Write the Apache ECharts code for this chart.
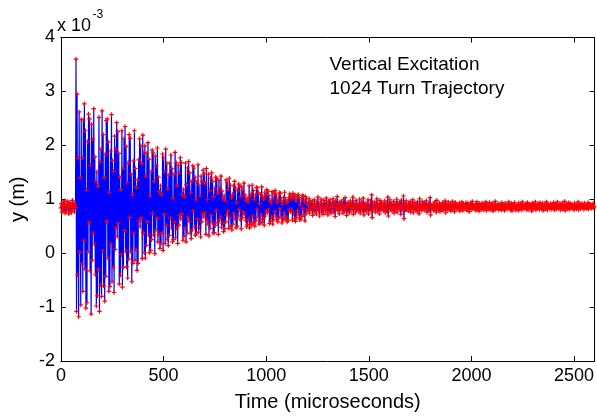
<!DOCTYPE html>
<html>
<head>
<meta charset="utf-8">
<script src="https://cdn.jsdelivr.net/npm/echarts@6/dist/echarts.min.js"></script>
<style>html,body{margin:0;padding:0;background:#fff}#c{width:597px;height:417px}</style>
</head>
<body>
<div id="c"></div>
<script>
// ---- data (y in units of 1e-5 m, i.e. hundredths of the 1e-3 m axis unit) ----
const turnPeriodUs = 2.54; // one sample per turn
const xTickValues = [0, 500, 1000, 1500, 2000, 2500];
const yTickValues = [-2, -1, 0, 1, 2, 3, 4];

// turns before the kick
const preKickY = [84,92,76,88,95,80,86,97,74,89, 91,78,83,96,87,73,85,94,79,90, 75,88,98,81,86,93,77,90,85];

// decaying oscillation after the kick
const decayY = [
360,-108,295,-40,176,-118,262,2,140,-96,248,-20,
177,-71,247,24,277,-29,227,-102,117,-92,207,3,
258,57,249,-33,163,-113,239,-13,211,37,268,17,
179,-40,133,-98,151,-79,124,-30,252,-108,169,-59,
193,-80,264,4,220,-61,140,-89,184,-43,246,59,
249,-9,206,-71,113,-62,189,17,257,-53,172,-27,
152,-73,217,7,193,47,242,31,226,55,185,-57,
142,-41,118,-3,227,-63,157,-26,212,42,235,4,
198,-25,131,-46,168,-11,220,66,213,3,146,-53,
108,-19,171,37,227,-13,157,6,122,-32,136,-19,
173,60,212,49,199,65,166,-10,219,38,186,1,
199,-9,143,15,186,58,205,34,174,1,106,5,
151,25,191,74,186,34,133,-1,180,43,162,65,
195,21,141,34,114,9,125,17,109,38,184,5,
177,72,151,18,193,52,167,25,119,14,145,33,
167,65,182,47,157,21,102,25,147,58,187,29,
168,46,125,18,163,52,149,70,177,63,168,73,
109,24,118,31,105,47,167,21,127,37,158,67,
170,59,149,37,112,27,133,43,162,78,158,49,
141,33,99,36,133,63,164,39,126,48,106,30,
143,58,133,72,154,67,147,75,129,35,157,61,
100,54,146,32,116,46,139,70,149,57,133,37,
105,38,120,51,141,79,138,56,111,35,135,61,
121,67,143,48,115,55,101,40,107,45,98,58,
136,71,131,78,118,46,139,66,126,50,103,43,
109,54,125,74,133,63,121,47,94,50,116,69,
128,81,125,62,105,45,123,66,116,76,130,72,
108,61,98,49,102,53,95,63,125,47,106,57,
110,52,126,69,116,56,99,50,108,60,122,81,
121,67,112,54,92,56,109,72,123,57,105,63,
100,52,113,69,108,78,118,75,115,80,107,55,
98,59,93,67,114,54,101,62,111,77,116,69,
108,62,95,58,102,65,112,82,111,68,98,56,
91,61,103,75,113,63,100,67,94,58,96,61,
103,80,110,77,107,81,101,61,111,74,105,64,
108,59,97,66,105,79,109,72,103,62,90,63,
99,68,107,83,106,71,96,60,105,73,101,80
];

// residual noise after decoherence
const tailY = [
92,78,88,101,74,86,95,80,83,97,70,89,84,99,77,90,
86,73,96,82,104,79,88,69,93,85,100,76,91,83,72,98,
81,94,87,75,102,83,90,71,96,84,78,99,86,74,92,80,
89,101,76,85,93,68,97,82,88,105,79,84,91,73,95,87,
80,96,83,90,74,99,86,78,103,82,89,70,94,85,77,92,
88,75,97,84,91,80,86,104,72,93,83,88,76,98,81,90,
84,92,79,87,100,74,89,83,95,78,86,102,71,91,85,80,
93,77,88,84,99,73,90,86,81,97,79,108,66,94,83,87,
82,95,76,89,85,101,78,92,84,87,73,98,88,80,94,83,
86,79,91,84,97,75,88,82,93,77,104,69,90,85,99,81,
87,92,78,86,83,96,74,89,91,80,85,100,76,93,84,88,
81,95,87,72,98,84,90,79,106,64,92,86,80,97,83,89,
85,78,93,88,81,96,76,87,91,83,99,75,88,84,94,80,
86,90,77,95,84,88,73,101,82,89,86,79,96,83,91,85,
80,94,87,83,97,76,89,85,92,78,86,103,71,90,84,88,
83,91,79,87,95,82,88,76,98,84,90,80,86,93,77,89,
85,88,81,94,79,90,86,83,97,75,91,84,88,80,95,82,
87,83,92,78,89,86,96,80,85,91,77,88,94,83,86,90,
81,89,85,93,78,87,90,82,95,84,79,91,86,88,83,92,
85,80,94,86,82,90,77,88,93,84,87,81,96,83,89,85,
88,83,91,79,87,95,82,86,89,78,92,85,84,90,81,93,
84,87,80,92,86,83,95,79,88,85,91,82,87,94,80,86,
89,82,93,85,78,90,87,84,96,81,86,89,83,92,85,80,
86,91,83,88,80,94,85,82,90,87,79,93,84,88,86,91,
82,87,95,84,89,81,86,92,78,90,85,88,83,94,87,80,
88,84,90,86,79,93,87,82,91,85,89,80,95,84,86,90,
83,89,85,92,81,87,94,80,88,86,91,83,85,90,78,93,
86,82,91,87,84,95,80,89,86,83,92,85,88,81,94,87,
90,85,83,93,79,88,86,91,82,87,95,84,80,92,86,89,
84,88,92,81,86,90,85,83,94,87,80,91,86,89,82,95,
87,83,89,85,92,80,88,86,93,82,90,84,87,96,79,88,
85,91,82,88,86,94,81,89,84,92,87,83,90,85,88,80,
93,84,87,90,82,89,85,95,80,88,86,91,83,87,92,84,
86,89,81,93,85,88,90,83,87,84,94,82,89,86,91,85,
88,83,90,86,92,84,87
];

const annotationLines = ['Vertical Excitation', '1024 Turn Trajectory'];

// ---- build ----
const allY = preKickY.concat(decayY, tailY);
const points = allY.map((v, i) => [i * turnPeriodUs, v / 100]);

const FONT = '"Liberation Sans", Arial, Helvetica, sans-serif';
const plusPath = 'path://M1.85,0H3.15V1.85H5V3.15H3.15V5H1.85V3.15H0V1.85H1.85Z';

const chart = echarts.init(document.getElementById('c'), null, { renderer: 'canvas' });

const lineBlack = { color: '#000', width: 1 };

chart.setOption({
  animation: false,
  backgroundColor: '#fff',
  grid: { left: 57.5, right: 1.6, top: 37.5, bottom: 52.2, containLabel: false },
  xAxis: [
    {
      type: 'value', position: 'bottom',
      min: xTickValues[0], max: 2600, interval: xTickValues[1] - xTickValues[0],
      axisLine: { show: true, onZero: false, lineStyle: lineBlack },
      axisTick: { show: true, inside: true, length: 5, lineStyle: lineBlack },
      axisLabel: {
        show: true, margin: 6, color: '#000', fontSize: 18, fontFamily: FONT,
        showMaxLabel: false,
        formatter: v => (xTickValues.indexOf(v) >= 0 ? String(v) : '')
      },
      splitLine: { show: false },
      name: 'Time (microseconds)', nameLocation: 'middle', nameGap: 31,
      nameTextStyle: { color: '#000', fontSize: 20, fontFamily: FONT }
    },
    {
      type: 'value', position: 'top',
      min: xTickValues[0], max: 2600, interval: xTickValues[1] - xTickValues[0],
      axisLine: { show: true, onZero: false, lineStyle: lineBlack },
      axisTick: { show: true, inside: true, length: 5, lineStyle: lineBlack },
      axisLabel: { show: false },
      splitLine: { show: false }
    }
  ],
  yAxis: [
    {
      type: 'value', position: 'left',
      min: yTickValues[0], max: yTickValues[yTickValues.length - 1], interval: 1,
      axisLine: { show: true, onZero: false, lineStyle: lineBlack },
      axisTick: { show: true, inside: true, length: 5, lineStyle: lineBlack },
      axisLabel: { show: true, margin: 6, color: '#000', fontSize: 18, fontFamily: FONT },
      splitLine: { show: false },
      name: 'y (m)', nameLocation: 'middle', nameGap: 28,
      nameTextStyle: { color: '#000', fontSize: 20, fontFamily: FONT }
    },
    {
      type: 'value', position: 'right',
      min: yTickValues[0], max: yTickValues[yTickValues.length - 1], interval: 1,
      axisLine: { show: true, onZero: false, lineStyle: lineBlack },
      axisTick: { show: true, inside: true, length: 5, lineStyle: lineBlack },
      axisLabel: { show: false },
      splitLine: { show: false }
    }
  ],
  graphic: [
    { type: 'text', x: 57, y: 26, silent: true,
      style: { text: 'x 10', fill: '#000', font: '18px ' + FONT, align: 'left', textAlign: 'left', verticalAlign: 'middle', textVerticalAlign: 'middle' } },
    { type: 'text', x: 92.5, y: 14.5, silent: true,
      style: { text: '-3', fill: '#000', font: '12px ' + FONT, align: 'left', textAlign: 'left', verticalAlign: 'middle', textVerticalAlign: 'middle' } },
    { type: 'text', x: 329.5, y: 65, silent: true,
      style: { text: annotationLines[0], fill: '#000', font: '19px ' + FONT, align: 'left', textAlign: 'left', verticalAlign: 'middle', textVerticalAlign: 'middle' } },
    { type: 'text', x: 329.5, y: 89, silent: true,
      style: { text: annotationLines[1], fill: '#000', font: '19px ' + FONT, align: 'left', textAlign: 'left', verticalAlign: 'middle', textVerticalAlign: 'middle' } }
  ],
  series: [
    {
      type: 'line', xAxisIndex: 0, yAxisIndex: 0,
      data: points,
      symbol: plusPath, symbolSize: 4.5, showAllSymbol: true,
      itemStyle: { color: '#ff0000', borderColor: '#ff0000', borderWidth: 0, opacity: 1 },
      lineStyle: { color: '#0000ff', width: 1.2 },
      progressive: 0,
      silent: true, z: 2
    }
  ]
});
</script>
</body>
</html>
